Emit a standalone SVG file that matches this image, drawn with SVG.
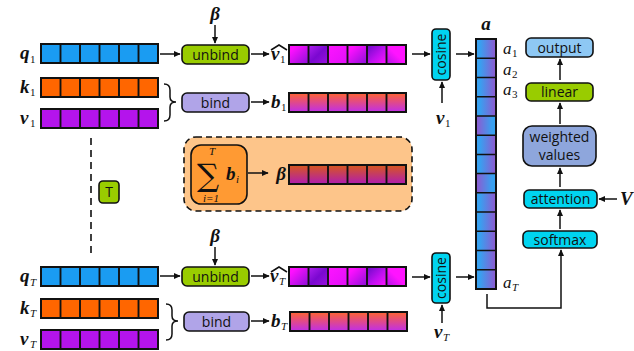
<svg xmlns="http://www.w3.org/2000/svg" xmlns:xlink="http://www.w3.org/1999/xlink" width="634" height="351" viewBox="0 0 634 351">
<style>
.m{font-family:"Liberation Serif","DejaVu Serif",serif;font-weight:bold;font-style:italic;font-size:19px;fill:#111}
.s{font-family:"Liberation Serif","DejaVu Serif",serif;font-style:italic;font-size:11px;fill:#111}
.sn{font-family:"Liberation Serif","DejaVu Serif",serif;font-size:11px;fill:#111}
.ai{font-family:"Liberation Serif","DejaVu Serif",serif;font-style:italic;font-size:17px;fill:#111}
.t{font-family:"Open Sans","DejaVu Sans",sans-serif;font-size:14px;fill:#111;text-anchor:middle}
.box{stroke:#111;stroke-width:1.6}
.c{fill:none;stroke:#111;stroke-width:1.5}
.o{fill:none;stroke:#111;stroke-width:2}
.ln{fill:none;stroke:#111;stroke-width:1.5}
</style>
<defs>
<marker id="ah" viewBox="0 0 10 10" refX="9" refY="5" markerWidth="4.5" markerHeight="4.5" orient="auto"><path d="M0,0.5 L10,5 L0,9.5z" fill="#111"/></marker>
<linearGradient id="gA" x1="0" y1="0" x2="1" y2="1"><stop offset="0.2" stop-color="#ff10ff"/><stop offset="1" stop-color="#8a10d8"/></linearGradient>
<linearGradient id="gB" x1="0" y1="0" x2="1" y2="1"><stop offset="0" stop-color="#b020f0"/><stop offset="0.5" stop-color="#7a08d0"/><stop offset="1" stop-color="#9a10e0"/></linearGradient>
<linearGradient id="gC" x1="0" y1="0" x2="1" y2="1"><stop offset="0" stop-color="#ff14ff"/><stop offset="1" stop-color="#e010f8"/></linearGradient>
<linearGradient id="gD" x1="0" y1="0" x2="1" y2="1"><stop offset="0" stop-color="#6a08c8"/><stop offset="0.55" stop-color="#c010f0"/><stop offset="1" stop-color="#ff14ff"/></linearGradient>
<linearGradient id="gE" x1="1" y1="0" x2="0" y2="1"><stop offset="0.5" stop-color="#ff14ff"/><stop offset="1" stop-color="#b010e8"/></linearGradient>
<linearGradient id="gF" x1="0" y1="0" x2="0" y2="1"><stop offset="0" stop-color="#ff6430"/><stop offset="1" stop-color="#c02ee8"/></linearGradient>
<linearGradient id="gG" x1="0" y1="0" x2="0" y2="1"><stop offset="0" stop-color="#d8581c"/><stop offset="1" stop-color="#b01cb0"/></linearGradient>
<linearGradient id="aB" x1="0" y1="0" x2="1" y2="0"><stop offset="0.2" stop-color="#38a0f0"/><stop offset="1" stop-color="#9058d0"/></linearGradient>
<linearGradient id="aP" x1="0" y1="0" x2="1" y2="0"><stop offset="0" stop-color="#9058d0"/><stop offset="0.8" stop-color="#38a0f0"/></linearGradient>
<g id="grid">
<rect class="c" x="0" y="0" width="19.5" height="19"/><rect class="c" x="19.5" y="0" width="19.5" height="19"/><rect class="c" x="39" y="0" width="19.5" height="19"/><rect class="c" x="58.5" y="0" width="19.5" height="19"/><rect class="c" x="78" y="0" width="19.5" height="19"/><rect class="c" x="97.5" y="0" width="19.5" height="19"/><rect class="o" x="0" y="0" width="117" height="19"/>
</g>
<g id="vhat">
<rect x="0" y="0" width="19.5" height="19" fill="url(#gA)"/><rect x="19.5" y="0" width="19.5" height="19" fill="url(#gB)"/><rect x="39" y="0" width="19.5" height="19" fill="url(#gC)"/><rect x="58.5" y="0" width="19.5" height="19" fill="url(#gA)"/><rect x="78" y="0" width="19.5" height="19" fill="url(#gD)"/><rect x="97.5" y="0" width="19.5" height="19" fill="url(#gE)"/><use xlink:href="#grid"/>
</g>
<g id="bvec"><rect x="0" y="0" width="117" height="19" fill="url(#gF)"/><use xlink:href="#grid"/></g>
</defs>
<rect width="634" height="351" fill="#fff"/>

<g id="q1"><rect x="41" y="44" width="117" height="19" fill="#1a9cf2"/><use xlink:href="#grid" x="41" y="44"/><text class="m" x="20" y="59">q</text><text class="sn" x="30" y="63">1</text></g>
<g id="k1"><rect x="41" y="78" width="117" height="19" fill="#ff6600"/><use xlink:href="#grid" x="41" y="78"/><text class="m" x="20" y="93">k</text><text class="sn" x="30" y="96">1</text></g>
<g id="v1"><rect x="41" y="109" width="117" height="19" fill="#b414ec"/><use xlink:href="#grid" x="41" y="109"/><text class="m" x="20" y="124">v</text><text class="sn" x="30" y="127">1</text></g>
<path d="M164,84 Q170,84 170,90 V97 Q170,102 176,102 Q170,102 170,107 V115 Q170,121 164,121" class="ln"/>

<g id="unbind1"><rect class="box" x="182" y="45" width="67" height="19" rx="5" fill="#99cc00"/><text class="t" x="215.5" y="59.5">unbind</text></g>
<g id="beta1"><text class="m" x="215" y="20" text-anchor="middle">β</text></g>
<g id="bind1"><rect class="box" x="182" y="93" width="67" height="19" rx="5" fill="#b0a4e8"/><text class="t" x="215.5" y="107.5">bind</text></g>
<g id="vhat1"><use xlink:href="#vhat" x="289" y="45"/><text class="m" x="271" y="60">v</text><text class="sn" x="280" y="63">1</text><polyline points="271,50 279,45 287,50" class="ln" stroke-width="1"/></g>
<g id="b1"><use xlink:href="#bvec" x="289" y="93"/><text class="m" x="271" y="108">b</text><text class="sn" x="281" y="111">1</text></g>
<g id="cos1"><rect class="box" x="432" y="29" width="18" height="51" rx="4" fill="#00d4f0"/><text class="t" transform="translate(446,54.5) rotate(-90)" x="0" y="0">cosine</text></g>
<g id="vlab1"><text class="m" x="436" y="124">v</text><text class="sn" x="445" y="127">1</text></g>

<g id="T"><rect class="box" x="99" y="181" width="20" height="22" rx="4" fill="#99cc00"/><text class="t" x="109" y="197">T</text></g>

<g id="sumgroup">
<rect x="184" y="137" width="228" height="74" rx="12" fill="#fdc58a" stroke="#111" stroke-width="1.6" stroke-dasharray="6,4"/>
<rect class="box" x="191" y="145" width="56" height="59" rx="10" fill="#ff9a33"/>
<text x="208" y="186" font-family="DejaVu Serif,serif" font-size="31" text-anchor="middle" fill="#111">∑</text>
<text class="s" x="212" y="155" text-anchor="middle">T</text>
<text class="s" x="211" y="202" text-anchor="middle">i=1</text>
<text class="m" x="226" y="180">b</text><text class="s" x="236" y="183">i</text>
<text class="m" x="281" y="180" text-anchor="middle">β</text>
<rect x="289" y="165" width="117" height="19" fill="url(#gG)"/><use xlink:href="#grid" x="289" y="165"/>
</g>

<g id="qT"><rect x="41" y="267" width="117" height="19" fill="#1a9cf2"/><use xlink:href="#grid" x="41" y="267"/><text class="m" x="20" y="282">q</text><text class="s" x="30" y="286">T</text></g>
<g id="kT"><rect x="41" y="299" width="117" height="19" fill="#ff6600"/><use xlink:href="#grid" x="41" y="299"/><text class="m" x="20" y="314">k</text><text class="s" x="30" y="317">T</text></g>
<g id="vT"><rect x="41" y="330" width="117" height="19" fill="#b414ec"/><use xlink:href="#grid" x="41" y="330"/><text class="m" x="20" y="345">v</text><text class="s" x="30" y="348">T</text></g>
<path d="M166,304 Q172,304 172,310 V316 Q172,321 178,321 Q172,321 172,326 V334 Q172,340 166,340" class="ln"/>

<g id="unbindT"><rect class="box" x="182" y="267" width="67" height="19" rx="5" fill="#99cc00"/><text class="t" x="215.5" y="281.5">unbind</text></g>
<g id="betaT"><text class="m" x="215" y="242" text-anchor="middle">β</text></g>
<g id="bindT"><rect class="box" x="184" y="312" width="65" height="19" rx="5" fill="#b0a4e8"/><text class="t" x="216.5" y="326.5">bind</text></g>
<g id="vhatT"><use xlink:href="#vhat" x="289" y="267"/><text class="m" x="270" y="282">v</text><text class="s" x="279" y="285">T</text><polyline points="271,272 279,267 287,272" class="ln" stroke-width="1"/></g>
<g id="bT"><use xlink:href="#bvec" x="290" y="312"/><text class="m" x="271" y="327">b</text><text class="s" x="281" y="330">T</text></g>
<g id="cosT"><rect class="box" x="432" y="253" width="18" height="50" rx="4" fill="#00d4f0"/><text class="t" transform="translate(446,278) rotate(-90)" x="0" y="0">cosine</text></g>
<g id="vlabT"><text class="m" x="434" y="338">v</text><text class="s" x="443" y="341">T</text></g>

<g id="acol">
<rect x="476" y="39" width="20" height="19.23" fill="url(#aB)"/>
<rect x="476" y="58.23" width="20" height="19.23" fill="url(#aB)"/>
<rect x="476" y="77.46" width="20" height="19.23" fill="url(#aB)"/>
<rect x="476" y="96.69" width="20" height="19.23" fill="url(#aB)"/>
<rect x="476" y="115.92" width="20" height="19.23" fill="url(#aP)"/>
<rect x="476" y="135.15" width="20" height="19.23" fill="url(#aB)"/>
<rect x="476" y="154.38" width="20" height="19.23" fill="url(#aB)"/>
<rect x="476" y="173.61" width="20" height="19.23" fill="url(#aP)"/>
<rect x="476" y="192.84" width="20" height="19.23" fill="url(#aB)"/>
<rect x="476" y="212.07" width="20" height="19.23" fill="url(#aB)"/>
<rect x="476" y="231.3" width="20" height="19.23" fill="url(#aB)"/>
<rect x="476" y="250.53" width="20" height="19.23" fill="url(#aB)"/>
<rect x="476" y="269.76" width="20" height="19.24" fill="url(#aB)"/>
<path d="M476,58.23H496M476,77.46H496M476,96.69H496M476,115.92H496M476,135.15H496M476,154.38H496M476,173.61H496M476,192.84H496M476,212.07H496M476,231.3H496M476,250.53H496M476,269.76H496" class="ln"/>
<rect class="o" x="476" y="39" width="20" height="250"/>
<text class="m" x="486" y="30" text-anchor="middle">a</text>
<text class="ai" x="503" y="54">a</text><text class="sn" x="512" y="57">1</text>
<text class="ai" x="503" y="75">a</text><text class="sn" x="512" y="78">2</text>
<text class="ai" x="503" y="95">a</text><text class="sn" x="512" y="98">3</text>
<text class="ai" x="503" y="288">a</text><text class="s" x="512" y="291">T</text>
</g>

<g id="output"><rect class="box" x="526" y="38" width="67" height="19" rx="5" fill="#8ec8f4"/><text class="t" x="559.5" y="52.5">output</text></g>
<g id="linear"><rect class="box" x="526" y="83" width="67" height="18" rx="5" fill="#99cc00"/><text class="t" x="559.5" y="97">linear</text></g>
<g id="weighted"><rect class="box" x="523" y="126" width="73" height="40" rx="9" fill="#8ea6dc"/><text class="t" x="559.5" y="142">weighted</text><text class="t" x="559.5" y="160">values</text></g>
<g id="attention"><rect class="box" x="524" y="190" width="73" height="18" rx="5" fill="#00d4f0"/><text class="t" x="560.5" y="204">attention</text></g>
<g id="softmax"><rect class="box" x="523" y="231" width="74" height="17" rx="5" fill="#00d4f0"/><text class="t" x="560" y="244.5">softmax</text></g>
<g id="Vlab"><text class="m" x="620" y="205">V</text></g>

<g id="connectors">
<line x1="91" y1="138" x2="91" y2="258" stroke="#111" stroke-width="1.6" stroke-dasharray="7,5"/>
<line class="ln" x1="160" y1="54" x2="180" y2="54" marker-end="url(#ah)"/>
<line class="ln" x1="215" y1="25" x2="215" y2="43" marker-end="url(#ah)"/>
<line class="ln" x1="251" y1="54" x2="269" y2="54" marker-end="url(#ah)"/>
<line class="ln" x1="251" y1="102" x2="269" y2="102" marker-end="url(#ah)"/>
<line class="ln" x1="412" y1="54" x2="430" y2="54" marker-end="url(#ah)"/>
<line class="ln" x1="456" y1="54" x2="474" y2="54" marker-end="url(#ah)"/>
<line class="ln" x1="442" y1="103" x2="442" y2="82" marker-end="url(#ah)"/>
<line class="ln" x1="248" y1="173" x2="268" y2="173" marker-end="url(#ah)"/>
<line class="ln" x1="160" y1="276" x2="180" y2="276" marker-end="url(#ah)"/>
<line class="ln" x1="215" y1="247" x2="215" y2="265" marker-end="url(#ah)"/>
<line class="ln" x1="251" y1="276" x2="269" y2="276" marker-end="url(#ah)"/>
<line class="ln" x1="251" y1="321" x2="269" y2="321" marker-end="url(#ah)"/>
<line class="ln" x1="412" y1="277" x2="430" y2="277" marker-end="url(#ah)"/>
<line class="ln" x1="456" y1="277" x2="474" y2="277" marker-end="url(#ah)"/>
<line class="ln" x1="442" y1="323" x2="442" y2="305" marker-end="url(#ah)"/>
<path class="ln" d="M487,294 V308 H561 V250" marker-end="url(#ah)"/>
<line class="ln" x1="560" y1="229" x2="560" y2="210" marker-end="url(#ah)"/>
<line class="ln" x1="560" y1="187" x2="560" y2="168" marker-end="url(#ah)"/>
<line class="ln" x1="560" y1="124" x2="560" y2="103" marker-end="url(#ah)"/>
<line class="ln" x1="560" y1="80" x2="560" y2="59" marker-end="url(#ah)"/>
<line class="ln" x1="617" y1="199" x2="599" y2="199" marker-end="url(#ah)"/>
</g>
</svg>
